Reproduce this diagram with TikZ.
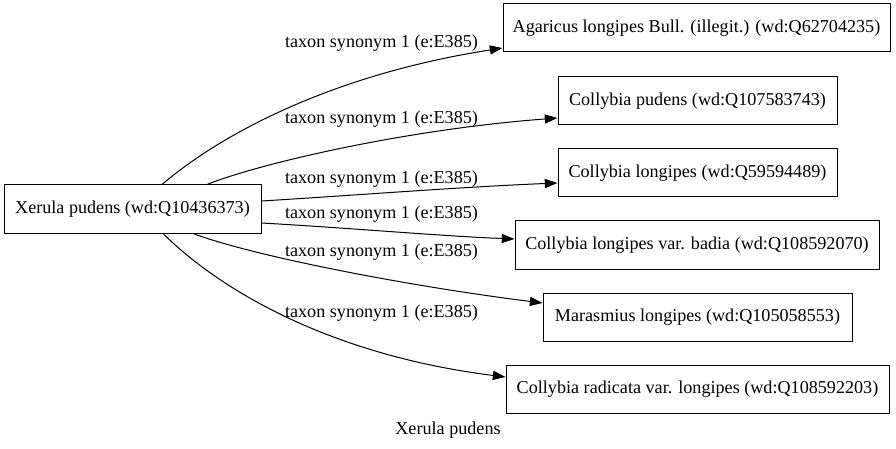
\documentclass[tikz,border=0pt]{standalone}
\usepackage{fontspec}
\setmainfont{Liberation Serif}
\usetikzlibrary{arrows.meta,calc}
\begin{document}
\begin{tikzpicture}[x=0.75pt,y=-0.75pt,
  every node/.style={font=\fontsize{13.6}{16}\selectfont},
  box/.style={draw,line width=0.75pt,rectangle,inner sep=0pt,minimum height=36pt},
  rel/.style={line width=0.75pt,-{Triangle[length=9.5pt,width=6.8pt]}},
  lbl/.style={inner sep=0pt}]
\useasboundingbox (0,0) rectangle (896,449);
\node[box,minimum width=192.75pt] (src) at (132.5,209) {Xerula pudens (wd:Q10436373)};
\node[box,minimum width=290.25pt] (ag) at (696.5,28) {Agaricus longipes Bull. (illegit.) (wd:Q62704235)};
\node[box,minimum width=209.25pt] (cp) at (697.5,101) {Collybia pudens (wd:Q107583743)};
\node[box,minimum width=209.25pt] (cl) at (697.5,173) {Collybia longipes (wd:Q59594489)};
\node[box,minimum width=273pt] (cb) at (697,245) {Collybia longipes var. badia (wd:Q108592070)};
\node[box,minimum width=231.75pt] (ml) at (697.5,317) {Marasmius longipes (wd:Q105058553)};
\node[box,minimum width=287.25pt] (cr) at (697.5,389) {Collybia radicata var. longipes (wd:Q108592203)};
\node[lbl] (title) at (448,430) {Xerula pudens};

\draw[rel] ($(src.north)+(29.5,0)$) .. controls (220,135) and (330,75) .. ($(ag.west)+(0,20)$);
\draw[rel] ($(src.north)+(74.5,0)$) .. controls (255,165) and (400,130) .. ($(cp.west)+(0,17)$);
\draw[rel] ($(src.east)+(0,-8)$) .. controls (360,195) and (460,187) .. ($(cl.west)+(0,10)$);
\draw[rel] ($(src.east)+(0,14)$) .. controls (350,228) and (440,236) .. ($(cb.west)+(0,-6)$);
\draw[rel] ($(src.south)+(60.5,0)$) .. controls (250,255) and (400,285) .. ($(ml.west)+(0,-14)$);
\draw[rel] ($(src.south)+(30.5,0)$) .. controls (220,290) and (330,355) .. ($(cr.west)+(0,-12)$);

\node[lbl] (l1) at (381.5,43) {taxon synonym 1 (e:E385)};
\node[lbl] (l2) at (381.5,119) {taxon synonym 1 (e:E385)};
\node[lbl] (l3) at (381.5,179) {taxon synonym 1 (e:E385)};
\node[lbl] (l4) at (381.5,214) {taxon synonym 1 (e:E385)};
\node[lbl] (l5) at (381.5,252) {taxon synonym 1 (e:E385)};
\node[lbl] (l6) at (381.5,313) {taxon synonym 1 (e:E385)};
\end{tikzpicture}
\end{document}
